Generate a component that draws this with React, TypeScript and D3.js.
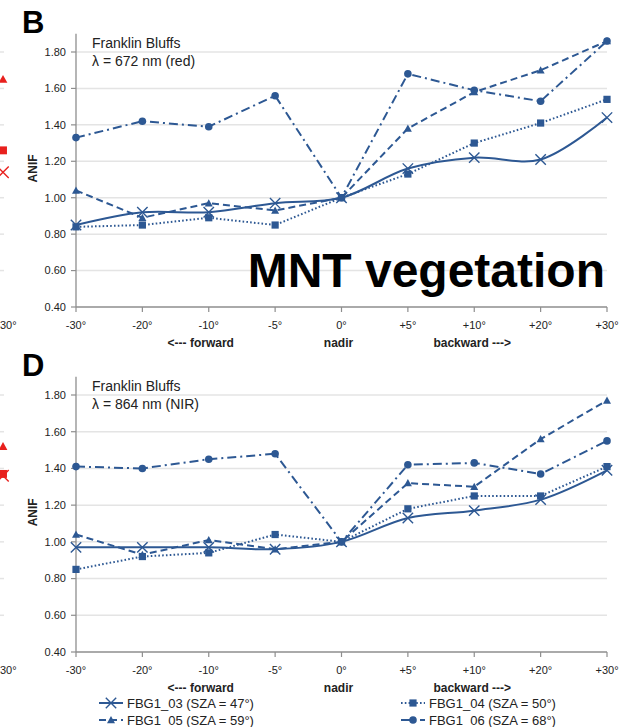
import React from "react";
import * as d3 from "d3";

// View angles along the flight line
const CATEGORIES = ["-30°", "-20°", "-10°", "-5°", "0°", "+5°", "+10°", "+20°", "+30°"];
const Y_TICKS = [0.4, 0.6, 0.8, 1.0, 1.2, 1.4, 1.6, 1.8];

// ANIF, λ = 672 nm (red)
const RED_FBG1_03 = [0.85, 0.92, 0.92, 0.97, 1.0, 1.16, 1.22, 1.21, 1.44];
const RED_FBG1_04 = [0.84, 0.85, 0.89, 0.85, 1.0, 1.13, 1.3, 1.41, 1.54];
const RED_FBG1_05 = [1.04, 0.89, 0.97, 0.93, 1.0, 1.38, 1.58, 1.7, 1.86];
const RED_FBG1_06 = [1.33, 1.42, 1.39, 1.56, 1.0, 1.68, 1.59, 1.53, 1.86];

// ANIF, λ = 864 nm (NIR)
const NIR_FBG1_03 = [0.97, 0.97, 0.97, 0.96, 1.0, 1.13, 1.17, 1.23, 1.39];
const NIR_FBG1_04 = [0.85, 0.92, 0.94, 1.04, 1.0, 1.18, 1.25, 1.25, 1.41];
const NIR_FBG1_05 = [1.04, 0.93, 1.01, 0.96, 1.0, 1.32, 1.3, 1.56, 1.77];
const NIR_FBG1_06 = [1.41, 1.4, 1.45, 1.48, 1.0, 1.42, 1.43, 1.37, 1.55];

// Series names and legend labels
const SERIES_KEYS = ["FBG1_03", "FBG1_04", "FBG1_05", "FBG1_06"];
const SERIES_LABELS = [
  "FBG1_03 (SZA = 47°)",
  "FBG1_04 (SZA = 50°)",
  "FBG1_05 (SZA = 59°)",
  "FBG1_06 (SZA = 68°)",
];

// Neighbouring panel's +30° values, visible at the left edge
const SIDE_RED = [
  { marker: "triangle", value: 1.65 },
  { marker: "square", value: 1.26 },
  { marker: "cross", value: 1.14 },
];
const SIDE_NIR = [
  { marker: "triangle", value: 1.52 },
  { marker: "square", value: 1.37 },
  { marker: "cross", value: 1.36 },
];

const BLUE = "#2d5893";
const GRID = "#e4e4e4";
const AXIS = "#8e8e8e";
const TEXT = "#222";
const FONT = "'Liberation Sans', Arial, sans-serif";
const NARROW = "'Liberation Sans Narrow', 'Liberation Sans', Arial, sans-serif";

type Style = { marker: string; dash: string; smooth: boolean };
const STYLES: Style[] = [
  { marker: "cross", dash: "none", smooth: true },
  { marker: "square", dash: "1.6,2.2", smooth: false },
  { marker: "triangle", dash: "7,4", smooth: false },
  { marker: "circle", dash: "9,4,2,4", smooth: false },
];

function Marker({ type, x, y, color, s = 1 }: { type: string; x: number; y: number; color: string; s?: number }) {
  if (type === "cross") {
    const r = 5.2 * s;
    return (
      <path
        d={`M${x - r},${y - r}L${x + r},${y + r}M${x - r},${y + r}L${x + r},${y - r}`}
        stroke={color}
        strokeWidth={1.4}
        fill="none"
      />
    );
  }
  if (type === "square") {
    const r = 3.6 * s;
    return <rect x={x - r} y={y - r} width={2 * r} height={2 * r} fill={color} />;
  }
  if (type === "triangle") {
    const r = 4 * s;
    return <path d={`M${x},${y - r}L${x + r},${y + r * 0.8}L${x - r},${y + r * 0.8}Z`} fill={color} />;
  }
  return <circle cx={x} cy={y} r={3.8 * s} fill={color} />;
}

type PanelProps = {
  letter: string;
  band: string;
  series: number[][];
  side: { marker: string; value: number }[];
  y0: number; // pixel of 0.40
  y18: number; // pixel of 1.80
};

function Panel({ letter, band, series, side, y0, y18 }: PanelProps) {
  const x = d3.scalePoint<string>().domain(CATEGORIES).range([76, 607]).padding(0);
  const unit = (y0 - y18) / 1.4;
  const y = d3.scaleLinear().domain([0.4, 1.9]).range([y0, y0 - 1.5 * unit]);
  const top = y(1.9);

  const linear = d3
    .line<number>()
    .x((_, i) => x(CATEGORIES[i]) as number)
    .y((d) => y(d));
  const smooth = d3
    .line<number>()
    .x((_, i) => x(CATEGORIES[i]) as number)
    .y((d) => y(d))
    .curve(d3.curveCatmullRom.alpha(0.5));

  return (
    <g>
      {/* neighbouring panel, cropped at the left edge */}
      {Y_TICKS.slice(1).map((t) => (
        <line key={"s" + t} x1={0} x2={4} y1={y(t)} y2={y(t)} stroke={GRID} strokeWidth={1.5} />
      ))}
      {side.map((d, i) => (
        <Marker key={"side" + i} type={d.marker} x={3} y={y(d.value)} color="#e8201d" s={1.1} />
      ))}
      <text x={0} y={y0 + 22} textAnchor="start" fontSize={11} fill={TEXT} fontFamily={FONT}>
        30°
      </text>

      {/* panel letter */}
      <text x={22} y={y18 - 19} fontSize={31} fontWeight="bold" fill="#000" fontFamily={FONT}>
        {letter}
      </text>

      {/* gridlines */}
      {Y_TICKS.slice(1).map((t) => (
        <line key={"g" + t} x1={76} x2={607} y1={y(t)} y2={y(t)} stroke={GRID} strokeWidth={1.5} />
      ))}

      {/* axes */}
      <line x1={76} x2={76} y1={top} y2={y0} stroke={AXIS} strokeWidth={1.3} />
      <line x1={76} x2={607} y1={y0} y2={y0} stroke={AXIS} strokeWidth={1.3} />
      {Y_TICKS.map((t) => (
        <g key={"yt" + t}>
          <line x1={71} x2={76} y1={y(t)} y2={y(t)} stroke={AXIS} strokeWidth={1.2} />
          <text
            x={66}
            y={y(t)}
            dy="0.35em"
            textAnchor="end"
            fontSize={11}
            fill={TEXT}
            fontFamily={FONT}
          >
            {t.toFixed(2)}
          </text>
        </g>
      ))}
      {CATEGORIES.map((c) => (
        <g key={"xt" + c}>
          <line x1={x(c)} x2={x(c)} y1={y0} y2={y0 + 5} stroke={AXIS} strokeWidth={1.2} />
          <text
            x={x(c)}
            y={y0 + 22}
            textAnchor="middle"
            fontSize={11}
            fill={TEXT}
            fontFamily={FONT}
          >
            {c}
          </text>
        </g>
      ))}
      <text x={(x("-10°") as number) - 8} y={y0 + 40} textAnchor="middle" fontSize={12} fontWeight="bold" fill={TEXT} fontFamily={NARROW}>
        {"<--- forward"}
      </text>
      <text x={(x("0°") as number) - 3} y={y0 + 40} textAnchor="middle" fontSize={12} fontWeight="bold" fill={TEXT} fontFamily={NARROW}>
        nadir
      </text>
      <text x={(x("+10°") as number) - 2} y={y0 + 40} textAnchor="middle" fontSize={12} fontWeight="bold" fill={TEXT} fontFamily={NARROW}>
        {"backward --->"}
      </text>

      <text
        transform={`translate(37,${(y0 + top) / 2 - 2}) rotate(-90)`}
        textAnchor="middle"
        fontSize={12}
        fontWeight="bold"
        fill={TEXT}
        fontFamily={FONT}
      >
        ANIF
      </text>

      <text x={92} y={y18 - 4} fontSize={14} fill={TEXT} fontFamily={FONT}>
        Franklin Bluffs
      </text>
      <text x={92} y={y18 + 14} fontSize={14} fill={TEXT} fontFamily={FONT}>
        {band}
      </text>

      {/* series */}
      {series.map((vals, si) => {
        const st = STYLES[si];
        return (
          <g key={SERIES_KEYS[si]}>
            <path
              d={(st.smooth ? smooth : linear)(vals) as string}
              fill="none"
              stroke={BLUE}
              strokeWidth={2}
              strokeDasharray={st.dash}
            />
            {vals.map((v, i) => (
              <Marker key={i} type={st.marker} x={x(CATEGORIES[i]) as number} y={y(v)} color={BLUE} />
            ))}
          </g>
        );
      })}
    </g>
  );
}

function LegendItem({ index, x, y }: { index: number; x: number; y: number }) {
  const st = STYLES[index];
  return (
    <g>
      <line x1={x} x2={x + 24} y1={y} y2={y} stroke={BLUE} strokeWidth={2} strokeDasharray={st.dash} />
      <Marker type={st.marker} x={x + 12} y={y} color={BLUE} />
      <text x={x + 28} y={y} dy="0.35em" fontSize={13} fill={TEXT} fontFamily={NARROW}>
        {SERIES_LABELS[index]}
      </text>
    </g>
  );
}

export default function App() {
  return (
    <svg
      width={620}
      height={727}
      viewBox="0 0 620 727"
      style={{ position: "absolute", left: 0, top: 0, background: "#fff" }}
    >
      <rect width={620} height={727} fill="#fff" />
      <Panel
        letter="B"
        band="λ = 672 nm (red)"
        series={[RED_FBG1_03, RED_FBG1_04, RED_FBG1_05, RED_FBG1_06]}
        side={SIDE_RED}
        y0={307}
        y18={52}
      />
      <text x={605} y={287} textAnchor="end" fontSize={48} fontWeight="bold" fill="#000" fontFamily={FONT}>
        MNT vegetation
      </text>
      <Panel
        letter="D"
        band="λ = 864 nm (NIR)"
        series={[NIR_FBG1_03, NIR_FBG1_04, NIR_FBG1_05, NIR_FBG1_06]}
        side={SIDE_NIR}
        y0={652}
        y18={395}
      />
      <LegendItem index={0} x={99} y={703} />
      <LegendItem index={1} x={401} y={703} />
      <LegendItem index={2} x={99} y={720} />
      <LegendItem index={3} x={401} y={720} />
    </svg>
  );
}
